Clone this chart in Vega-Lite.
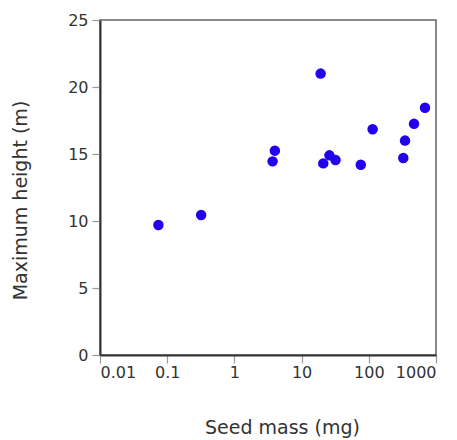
{
  "$schema": "https://vega.github.io/schema/vega-lite/v6.json",
  "autosize": {"type": "none"},
  "padding": {"left": 100, "top": 20, "right": 21, "bottom": 85},
  "width": 336,
  "height": 335,
  "background": "white",
  "config": {
    "view": {"stroke": "#666", "strokeWidth": 1.5},
    "axis": {
      "grid": false,
      "labelFont": "DejaVu Sans",
      "labelFontSize": 16,
      "labelColor": "#333",
      "titleFont": "DejaVu Sans",
      "titleFontSize": 19,
      "titleFontWeight": "normal",
      "titleColor": "#333",
      "domainColor": "#333",
      "domainWidth": 2,
      "tickColor": "#999",
      "tickWidth": 1.2,
      "tickSize": 8
    }
  },
  "data": {
    "values": [
      {"seed": 0.074, "height": 9.7},
      {"seed": 0.32, "height": 10.45},
      {"seed": 3.7, "height": 14.45},
      {"seed": 4.0, "height": 15.25},
      {"seed": 19.2, "height": 21.0},
      {"seed": 21, "height": 14.3},
      {"seed": 26, "height": 14.9},
      {"seed": 32, "height": 14.55},
      {"seed": 76, "height": 14.2},
      {"seed": 114, "height": 16.85},
      {"seed": 326, "height": 14.7},
      {"seed": 346, "height": 16.0},
      {"seed": 471, "height": 17.25},
      {"seed": 686, "height": 18.45}
    ]
  },
  "mark": {"type": "circle", "size": 110, "color": "#2200ee", "opacity": 1},
  "encoding": {
    "x": {
      "field": "seed",
      "type": "quantitative",
      "scale": {"type": "log", "domain": [0.01, 1000], "nice": false},
      "axis": {
        "title": "Seed mass (mg)",
        "values": [0.01, 0.1, 1, 10, 100, 1000],
        "format": "~g",
        "labelPadding": 1,
        "titleBaseline": "alphabetic",
        "titleX": 182,
        "titleY": 78
      }
    },
    "y": {
      "field": "height",
      "type": "quantitative",
      "scale": {"domain": [0, 25], "nice": false},
      "axis": {
        "title": "Maximum height (m)",
        "values": [0, 5, 10, 15, 20, 25],
        "labelPadding": 4,
        "titleBaseline": "alphabetic",
        "titleX": -74,
        "titleY": 180
      }
    }
  }
}
